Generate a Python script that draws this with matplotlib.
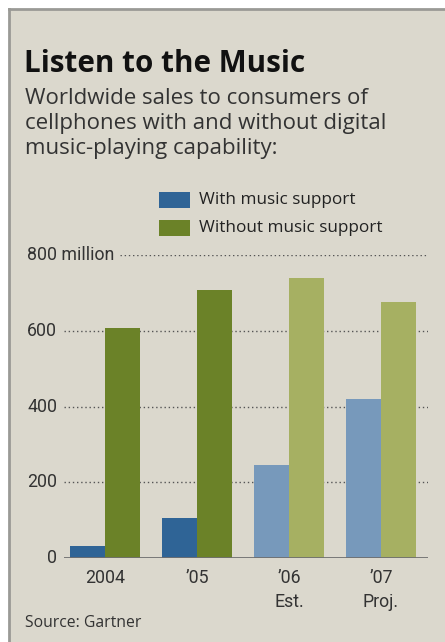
import matplotlib
matplotlib.use("Agg")
import matplotlib.pyplot as plt
from matplotlib.patches import Rectangle
import numpy as np

categories = ["2004", "\u201905", "\u201906\nEst.", "\u201907\nProj."]
with_music = [32, 105, 245, 421]
without_music = [608, 707, 738, 675]
estimated = [False, False, True, True]
yticks = [0, 200, 400, 600, 800]
ytick_labels = ["0", "200", "400", "600", "800 million"]

W, H = 445, 642
DPI = 100
BG = "#dbd8cd"
C_WITH = "#2f6496"
C_WITHOUT = "#6b8228"
C_WITH_EST = "#7799bb"
C_WITHOUT_EST = "#a6b062"

FONT = ["Open Sans", "DejaVu Sans"]
NARROW = ["Liberation Sans Narrow", "Roboto", "DejaVu Sans"]

fig = plt.figure(figsize=(W / DPI, H / DPI), dpi=DPI)
fig.patch.set_facecolor("white")

def fx(px):
    return px / W

def fy(py):
    return 1 - py / H

# panel
fig.add_artist(Rectangle((fx(9), 0), 1 - fx(9), fy(9), transform=fig.transFigure,
                         facecolor=BG, edgecolor="none", zorder=-10))
fig.add_artist(plt.Line2D([fx(9), fx(9)], [0, fy(9)], transform=fig.transFigure, color="#9a9a96", lw=2, zorder=-5))
fig.add_artist(plt.Line2D([fx(9), 1], [fy(9), fy(9)], transform=fig.transFigure, color="#9a9a96", lw=2, zorder=-5))

fig.text(fx(24), fy(72), "Listen to the Music", fontsize=21.3, fontweight="bold",
         family=FONT, color="#111111", va="baseline")
sub = ["Worldwide sales to consumers of", "cellphones with and without digital",
       "music-playing capability:"]
for i, line in enumerate(sub):
    fig.text(fx(25), fy(104 + 25 * i), line, fontsize=16, family=FONT,
             color="#333333", va="baseline")

# legend
for i, (lab, col) in enumerate([("With music support", C_WITH), ("Without music support", C_WITHOUT)]):
    yc = 200 + 28 * i
    fig.add_artist(Rectangle((fx(159), fy(yc + 8)), fx(190) - fx(159), fy(yc - 8) - fy(yc + 8),
                             transform=fig.transFigure, facecolor=col, edgecolor="none"))
    fig.text(fx(199), fy(yc), lab, fontsize=12.3, family=FONT, color="#222222", va="center")

# axes
left, right, top, bottom = 64, 428, 255, 558
ax = fig.add_axes([fx(left), fy(bottom), fx(right) - fx(left), fy(top) - fy(bottom)], zorder=2)
ax.set_facecolor("none")
ax.patch.set_alpha(0)
x = np.arange(len(categories))
bw = 0.38
cw = [C_WITH_EST if e else C_WITH for e in estimated]
cwo = [C_WITHOUT_EST if e else C_WITHOUT for e in estimated]
ax.bar(x - bw / 2, with_music, width=bw, color=cw, zorder=3)
ax.bar(x + bw / 2, without_music, width=bw, color=cwo, zorder=3)
ax.set_xlim((left - 105) / 92, (right - 105) / 92)
ax.set_ylim(0, 800)
for s in ax.spines.values():
    s.set_visible(False)
ax.axhline(0, color="#6f6f6f", lw=2, zorder=4)
for t in yticks[1:]:
    xmin = (120 - left) / (right - left) if t == 800 else 0
    ax.axhline(t, xmin=xmin, xmax=1, color="#555555", lw=1, ls=(0, (1, 2)), zorder=1)
ax.set_yticks(yticks)
ax.set_yticklabels([])
ax.tick_params(axis="y", length=0)
for t, lab in zip(yticks, ytick_labels):
    if t == 800:
        fig.text(fx(27), fy(255), lab, fontsize=12.8, family=NARROW, color="#333333",
                 va="center", ha="left")
    else:
        ax.annotate(lab, xy=(0, t), xycoords=("axes fraction", "data"), xytext=(-5, 0),
                    textcoords="offset points", ha="right", va="center", fontsize=12.8,
                    family=NARROW, color="#333333")
ax.set_xticks(x)
ax.set_xticklabels(categories, fontsize=12.8, family=NARROW, color="#333333", linespacing=1.45)
ax.tick_params(axis="x", length=0, pad=8)

fig.text(fx(25), fy(623), "Source: Gartner", fontsize=11.3, family=FONT, color="#333333", va="center")

fig.savefig("out.png", dpi=DPI, facecolor=fig.get_facecolor())
